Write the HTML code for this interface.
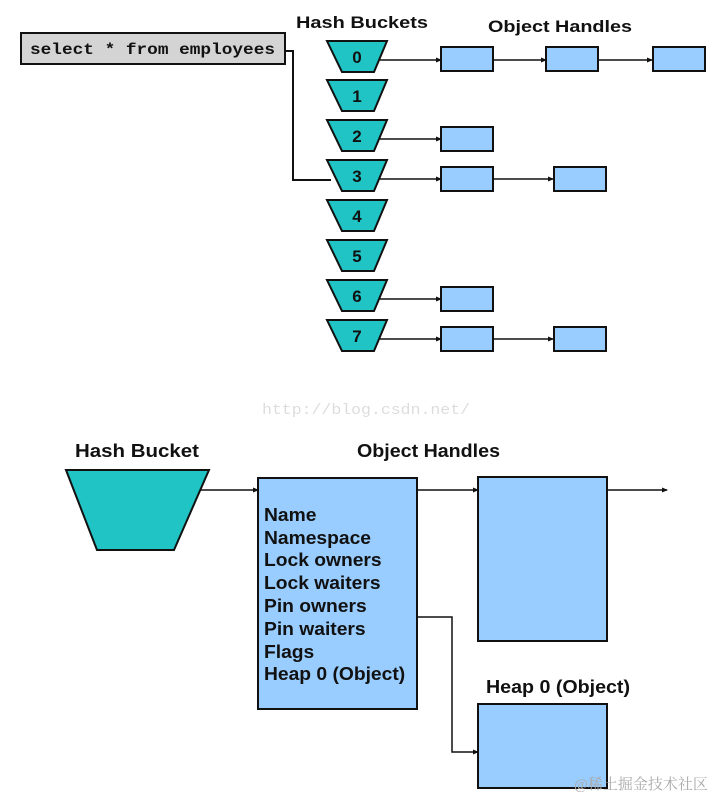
<!DOCTYPE html>
<html><head><meta charset="utf-8"><style>
body{margin:0;background:#fff}
svg{display:block}
text{font-family:"Liberation Sans",Arial,sans-serif;font-weight:bold;fill:#111}
</style></head><body>
<svg width="714" height="797" viewBox="0 0 714 797" xmlns="http://www.w3.org/2000/svg">
<defs><marker id="a" markerWidth="6" markerHeight="6" refX="5" refY="3" orient="auto" markerUnits="userSpaceOnUse"><path d="M0,0.5 L6,3 L0,5.5z" fill="#111"/></marker></defs>
<g stroke="#111" stroke-width="2" fill="none">
<rect x="21" y="33" width="264" height="31" fill="#d4d4d4"/>
<polyline points="285,51 293,51 293,180 331,180"/>
</g>
<text x="30" y="54" textLength="245" lengthAdjust="spacingAndGlyphs" style="font-family:'Liberation Mono',monospace;font-size:16px">select * from employees</text>
<text x="296" y="28" font-size="17" textLength="132" lengthAdjust="spacingAndGlyphs">Hash Buckets</text>
<text x="488" y="32" font-size="17" textLength="144" lengthAdjust="spacingAndGlyphs">Object Handles</text>
<g stroke="#111" stroke-width="2">
<g fill="#20c4c4">
<polygon points="327,41 387,41 374,72 342,72"/>
<polygon points="327,80 387,80 374,111 342,111"/>
<polygon points="327,120 387,120 374,151 342,151"/>
<polygon points="327,160 387,160 374,191 342,191"/>
<polygon points="327,200 387,200 374,231 342,231"/>
<polygon points="327,240 387,240 374,271 342,271"/>
<polygon points="327,280 387,280 374,311 342,311"/>
<polygon points="327,320 387,320 374,351 342,351"/>
</g>
<g fill="none" marker-end="url(#a)" stroke-width="1.5">
<line x1="380" y1="60" x2="441" y2="60"/><line x1="493" y1="60" x2="546" y2="60"/><line x1="598" y1="60" x2="652" y2="60"/>
<line x1="380" y1="139" x2="441" y2="139"/>
<line x1="380" y1="179" x2="441" y2="179"/><line x1="493" y1="179" x2="553" y2="179"/>
<line x1="380" y1="299" x2="441" y2="299"/>
<line x1="380" y1="339" x2="441" y2="339"/><line x1="493" y1="339" x2="553" y2="339"/>
</g>
<g fill="#99ccff">
<rect x="441" y="47" width="52" height="24"/><rect x="546" y="47" width="52" height="24"/><rect x="653" y="47" width="52" height="24"/>
<rect x="441" y="127" width="52" height="24"/>
<rect x="441" y="167" width="52" height="24"/><rect x="554" y="167" width="52" height="24"/>
<rect x="441" y="287" width="52" height="24"/>
<rect x="441" y="327" width="52" height="24"/><rect x="554" y="327" width="52" height="24"/>
</g>
</g>
<g font-size="17" text-anchor="middle">
<text x="357" y="63">0</text><text x="357" y="102">1</text><text x="357" y="142">2</text><text x="357" y="182">3</text>
<text x="357" y="222">4</text><text x="357" y="262">5</text><text x="357" y="302">6</text><text x="357" y="342">7</text>
</g>
<text x="262" y="414" textLength="208" lengthAdjust="spacingAndGlyphs" style="font-family:'Liberation Mono',monospace;font-weight:normal;font-size:15px;fill:#ddd">http://blog.csdn.net/</text>
<text x="75" y="457" font-size="18" textLength="124" lengthAdjust="spacingAndGlyphs">Hash Bucket</text>
<text x="357" y="457" font-size="18" textLength="143" lengthAdjust="spacingAndGlyphs">Object Handles</text>
<g stroke="#111" stroke-width="2">
<polygon points="66,470 209,470 174,550 97,550" fill="#20c4c4"/>
<g fill="none" stroke-width="1.5" marker-end="url(#a)">
<line x1="200" y1="490" x2="258" y2="490"/>
<line x1="417" y1="490" x2="478" y2="490"/>
<line x1="607" y1="490" x2="667" y2="490"/>
<polyline points="417,617 452,617 452,752 478,752"/>
</g>
<rect x="258" y="478" width="159" height="231" fill="#99ccff"/>
<rect x="478" y="477" width="129" height="164" fill="#99ccff"/>
<rect x="478" y="704" width="129" height="84" fill="#99ccff"/>
</g>
<g font-size="18" transform="translate(264,0) scale(1.07,1) translate(-264,0)">
<text x="264" y="521">Name</text><text x="264" y="544">Namespace</text><text x="264" y="566">Lock owners</text>
<text x="264" y="589">Lock waiters</text><text x="264" y="612">Pin owners</text><text x="264" y="635">Pin waiters</text>
<text x="264" y="658">Flags</text><text x="264" y="680">Heap 0 (Object)</text>
</g>
<text x="486" y="693" font-size="18" textLength="144" lengthAdjust="spacingAndGlyphs">Heap 0 (Object)</text>
<text x="574" y="789" style="font-family:'Liberation Serif','Noto Serif CJK SC',serif;font-weight:normal;font-size:15px;fill:#aaa">@稀土掘金技术社区</text>
</svg>
</body></html>
